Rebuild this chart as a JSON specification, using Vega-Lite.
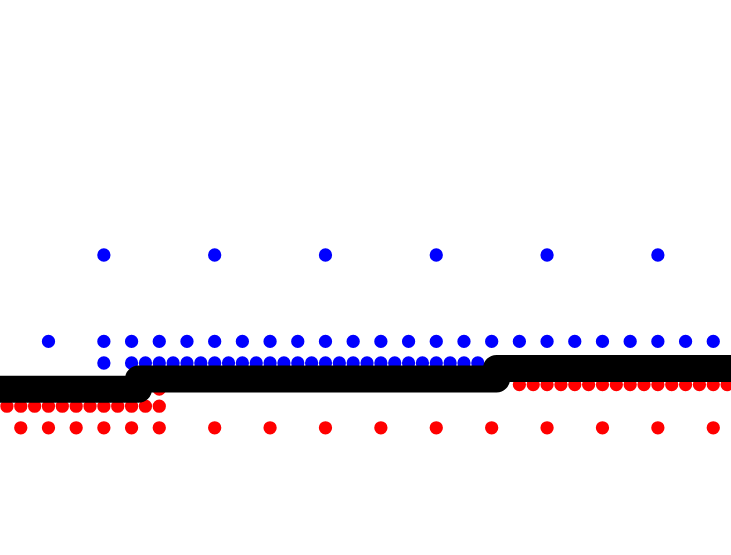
{
  "$schema": "https://vega.github.io/schema/vega-lite/v6.json",
  "width": 731,
  "height": 555,
  "autosize": {"type": "fit", "contains": "padding"},
  "padding": 0,
  "background": "white",
  "config": {"view": {"stroke": null}},
  "datasets": {
    "points": [
      {"x": -1, "y": 0, "group": "blue"}, {"x": 15, "y": 0, "group": "blue"}, {"x": 31, "y": 0, "group": "blue"}, {"x": 47, "y": 0, "group": "blue"}, {"x": 63, "y": 0, "group": "blue"}, {"x": 79, "y": 0, "group": "blue"}, {"x": 95, "y": 0, "group": "blue"},
      {"x": -1, "y": -4, "group": "blue"}, {"x": 7, "y": -4, "group": "blue"}, {"x": 15, "y": -4, "group": "blue"}, {"x": 19, "y": -4, "group": "blue"}, {"x": 23, "y": -4, "group": "blue"}, {"x": 27, "y": -4, "group": "blue"}, {"x": 31, "y": -4, "group": "blue"}, {"x": 35, "y": -4, "group": "blue"}, {"x": 39, "y": -4, "group": "blue"}, {"x": 43, "y": -4, "group": "blue"}, {"x": 47, "y": -4, "group": "blue"}, {"x": 51, "y": -4, "group": "blue"}, {"x": 55, "y": -4, "group": "blue"}, {"x": 59, "y": -4, "group": "blue"}, {"x": 63, "y": -4, "group": "blue"}, {"x": 67, "y": -4, "group": "blue"}, {"x": 71, "y": -4, "group": "blue"}, {"x": 75, "y": -4, "group": "blue"}, {"x": 79, "y": -4, "group": "blue"}, {"x": 83, "y": -4, "group": "blue"}, {"x": 87, "y": -4, "group": "blue"}, {"x": 91, "y": -4, "group": "blue"}, {"x": 95, "y": -4, "group": "blue"}, {"x": 99, "y": -4, "group": "blue"}, {"x": 103, "y": -4, "group": "blue"},
      {"x": 15, "y": -5, "group": "blue"}, {"x": 19, "y": -5, "group": "blue"}, {"x": 21, "y": -5, "group": "blue"}, {"x": 23, "y": -5, "group": "blue"}, {"x": 25, "y": -5, "group": "blue"}, {"x": 27, "y": -5, "group": "blue"}, {"x": 29, "y": -5, "group": "blue"}, {"x": 31, "y": -5, "group": "blue"}, {"x": 33, "y": -5, "group": "blue"}, {"x": 35, "y": -5, "group": "blue"}, {"x": 37, "y": -5, "group": "blue"}, {"x": 39, "y": -5, "group": "blue"}, {"x": 41, "y": -5, "group": "blue"}, {"x": 43, "y": -5, "group": "blue"}, {"x": 45, "y": -5, "group": "blue"}, {"x": 47, "y": -5, "group": "blue"}, {"x": 49, "y": -5, "group": "blue"}, {"x": 51, "y": -5, "group": "blue"}, {"x": 53, "y": -5, "group": "blue"}, {"x": 55, "y": -5, "group": "blue"}, {"x": 57, "y": -5, "group": "blue"}, {"x": 59, "y": -5, "group": "blue"}, {"x": 61, "y": -5, "group": "blue"}, {"x": 63, "y": -5, "group": "blue"}, {"x": 65, "y": -5, "group": "blue"}, {"x": 67, "y": -5, "group": "blue"}, {"x": 69, "y": -5, "group": "blue"},
      {"x": 75, "y": -6, "group": "red"}, {"x": 77, "y": -6, "group": "red"}, {"x": 79, "y": -6, "group": "red"}, {"x": 81, "y": -6, "group": "red"}, {"x": 83, "y": -6, "group": "red"}, {"x": 85, "y": -6, "group": "red"}, {"x": 87, "y": -6, "group": "red"}, {"x": 89, "y": -6, "group": "red"}, {"x": 91, "y": -6, "group": "red"}, {"x": 93, "y": -6, "group": "red"}, {"x": 95, "y": -6, "group": "red"}, {"x": 97, "y": -6, "group": "red"}, {"x": 99, "y": -6, "group": "red"}, {"x": 101, "y": -6, "group": "red"}, {"x": 103, "y": -6, "group": "red"}, {"x": 105, "y": -6, "group": "red"},
      {"x": 23, "y": -6.21, "group": "red"},
      {"x": 1, "y": -7, "group": "red"}, {"x": 3, "y": -7, "group": "red"}, {"x": 5, "y": -7, "group": "red"}, {"x": 7, "y": -7, "group": "red"}, {"x": 9, "y": -7, "group": "red"}, {"x": 11, "y": -7, "group": "red"}, {"x": 13, "y": -7, "group": "red"}, {"x": 15, "y": -7, "group": "red"}, {"x": 17, "y": -7, "group": "red"}, {"x": 19, "y": -7, "group": "red"}, {"x": 21, "y": -7, "group": "red"}, {"x": 23, "y": -7, "group": "red"},
      {"x": -1, "y": -8, "group": "red"}, {"x": 3, "y": -8, "group": "red"}, {"x": 7, "y": -8, "group": "red"}, {"x": 11, "y": -8, "group": "red"}, {"x": 15, "y": -8, "group": "red"}, {"x": 19, "y": -8, "group": "red"}, {"x": 23, "y": -8, "group": "red"}, {"x": 31, "y": -8, "group": "red"}, {"x": 39, "y": -8, "group": "red"}, {"x": 47, "y": -8, "group": "red"}, {"x": 55, "y": -8, "group": "red"}, {"x": 63, "y": -8, "group": "red"}, {"x": 71, "y": -8, "group": "red"}, {"x": 79, "y": -8, "group": "red"}, {"x": 87, "y": -8, "group": "red"}, {"x": 95, "y": -8, "group": "red"}, {"x": 103, "y": -8, "group": "red"}
    ],
    "line": [
      {"x": -6, "y": -6.21},
      {"x": 20, "y": -5.74},
      {"x": 71.7, "y": -5.25},
      {"x": 112, "y": -5.25}
    ]
  },
  "layer": [
    {
      "data": {"name": "points"},
      "mark": {"type": "circle", "size": 177, "opacity": 1, "clip": true},
      "encoding": {
        "x": {"field": "x", "type": "quantitative", "scale": {"domain": [0, 105.56], "nice": false, "zero": false}, "axis": null},
        "y": {"field": "y", "type": "quantitative", "scale": {"domain": [-13.889, 11.806], "nice": false, "zero": false}, "axis": null},
        "color": {"field": "group", "type": "nominal", "scale": {"domain": ["blue", "red"], "range": ["#0000ff", "#ff0000"]}, "legend": null}
      }
    },
    {
      "data": {"name": "line"},
      "mark": {"type": "line", "interpolate": "step-after", "color": "#000000", "strokeWidth": 27, "strokeJoin": "round", "strokeCap": "round", "clip": true},
      "encoding": {
        "x": {"field": "x", "type": "quantitative", "scale": {"domain": [0, 105.56], "nice": false, "zero": false}, "axis": null},
        "y": {"field": "y", "type": "quantitative", "scale": {"domain": [-13.889, 11.806], "nice": false, "zero": false}, "axis": null}
      }
    }
  ]
}
